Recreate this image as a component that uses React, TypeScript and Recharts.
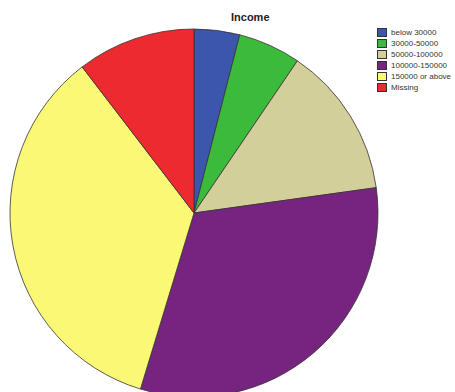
import { PieChart, Pie, Cell } from "recharts";

const categories = ["below 30000", "30000-50000", "50000-100000", "100000-150000", "150000 or above", "Missing"];
const percents = [4.0, 5.5, 13.3, 31.9, 34.9, 10.4];
const colors = ["#3d56ad", "#3cba3c", "#d2cf9a", "#76247f", "#fbf876", "#ec2a30"];

const data = categories.map((name, i) => ({ name, value: percents[i] }));

export default function App() {
  return (
    <div style={{ position: "fixed", left: 0, top: 0, width: 455, height: 392, background: "#fff", overflow: "hidden", fontFamily: "Arial, 'Liberation Sans', sans-serif" }}>
      <div style={{ position: "absolute", left: 231, top: 11, fontSize: 11, fontWeight: "bold", color: "#222" }}>Income</div>
      <PieChart width={455} height={392} margin={{ top: 0, right: 0, bottom: 0, left: 0 }}>
        <Pie
          data={data}
          dataKey="value"
          nameKey="name"
          cx={194}
          cy={213}
          outerRadius={184}
          startAngle={90}
          endAngle={-270}
          stroke="#333"
          strokeWidth={0.8}
          isAnimationActive={false}
        >
          {data.map((d, i) => (
            <Cell key={d.name} fill={colors[i]} />
          ))}
        </Pie>
      </PieChart>
      <div style={{ position: "absolute", left: 377, top: 27, fontSize: 8, lineHeight: "11px", color: "#333", whiteSpace: "nowrap" }}>
        {categories.map((c, i) => (
          <div key={c} style={{ display: "flex", alignItems: "center" }}>
            <span style={{ display: "inline-block", width: 8, height: 7, background: colors[i], border: "0.5px solid #333", marginRight: 4 }} />
            {c}
          </div>
        ))}
      </div>
    </div>
  );
}
